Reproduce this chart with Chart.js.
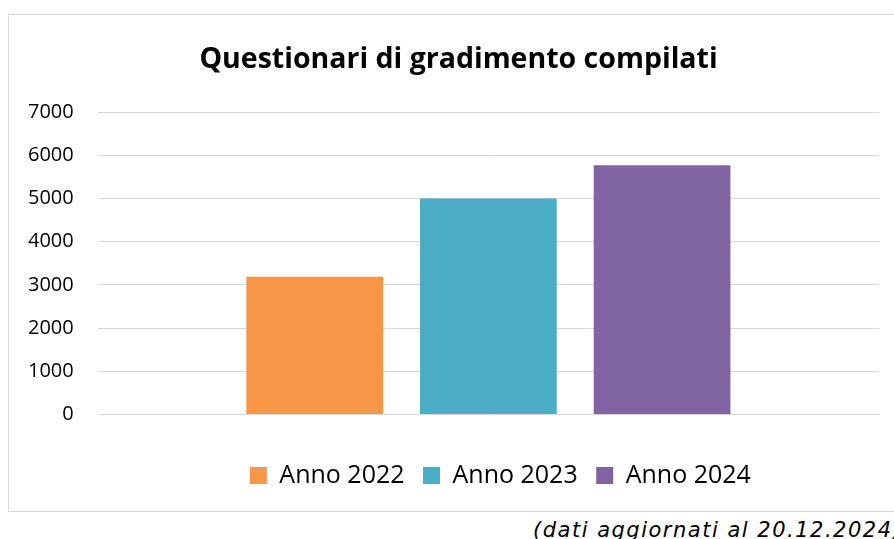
<!DOCTYPE html>
<html>
<head>
<meta charset="utf-8">
<script src="https://cdn.jsdelivr.net/npm/chart.js@4/dist/chart.umd.min.js"></script>
<style>
  html, body { margin: 0; padding: 0; width: 894px; height: 539px; overflow: hidden; background: #fff; }
  #frame { position: absolute; left: 8px; top: 14px; width: 1000px; height: 496px; border: 1px solid #d9d9d9; box-sizing: content-box; }
  #wrap { position: absolute; left: 8px; top: 14px; width: 886px; height: 497px; }
  #note { position: absolute; left: 533px; top: 520px; font-family: "DejaVu Sans", sans-serif; font-style: italic; font-size: 21px; letter-spacing: 1.5px; line-height: 20px; color: #000; white-space: nowrap; }
</style>
</head>
<body>
<div id="frame"></div>
<div id="wrap"><canvas id="c" width="886" height="497"></canvas></div>
<div id="note">(dati aggiornati al 20.12.2024)</div>
<script>
const chartTitle = "Questionari di gradimento compilati";
const categories = [""];
const seriesNames = ["Anno 2022", "Anno 2023", "Anno 2024"];
const anno2022 = [3190];
const anno2023 = [5000];
const anno2024 = [5770];
const yMin = 0, yMax = 7000, yStep = 1000;
const seriesColors = ["#F79646", "#4BACC6", "#8064A2"];

const seriesValues = [anno2022, anno2023, anno2024];
const datasets = seriesNames.map((name, i) => ({
  label: name,
  data: seriesValues[i],
  backgroundColor: seriesColors[i],
  borderWidth: 0,
  categoryPercentage: 0.667,
  barPercentage: 0.787
}));

// Shift title and legend blocks horizontally (Excel-like free placement)
const boxOffsets = {
  id: "boxOffsets",
  afterLayout(chart) {
    if (chart.titleBlock) { chart.titleBlock.left += 17; chart.titleBlock.right += 17; }
    if (chart.legend) { chart.legend.left += 12; chart.legend.right += 12; }
  }
};

new Chart(document.getElementById("c"), {
  type: "bar",
  data: { labels: categories, datasets },
  plugins: [boxOffsets],
  options: {
    responsive: false,
    animation: false,
    layout: { padding: { left: -4, right: 15, top: 0, bottom: 13 } },
    scales: {
      x: {
        grid: { display: false },
        border: { display: false },
        ticks: { display: false },
        afterFit: s => { s.height = 30; }
      },
      y: {
        min: yMin, max: yMax,
        ticks: { stepSize: yStep, color: "#000", padding: 24, font: { family: "Open Sans", size: 20 },
                 callback: v => String(v) },
        grid: { color: "#d9d9d9", lineWidth: 1, drawTicks: false },
        border: { display: false }
      }
    },
    plugins: {
      title: {
        display: true,
        text: chartTitle,
        color: "#000",
        font: { family: "Open Sans", size: 28.5, weight: "bold" },
        padding: { top: 29, bottom: 35 }
      },
      legend: {
        position: "bottom",
        fullSize: false,
        labels: {
          boxWidth: 17, boxHeight: 17,
          padding: 18.5,
          color: "#000",
          font: { family: "Open Sans", size: 25 }
        }
      },
      tooltip: { enabled: false }
    }
  }
});
</script>
</body>
</html>
